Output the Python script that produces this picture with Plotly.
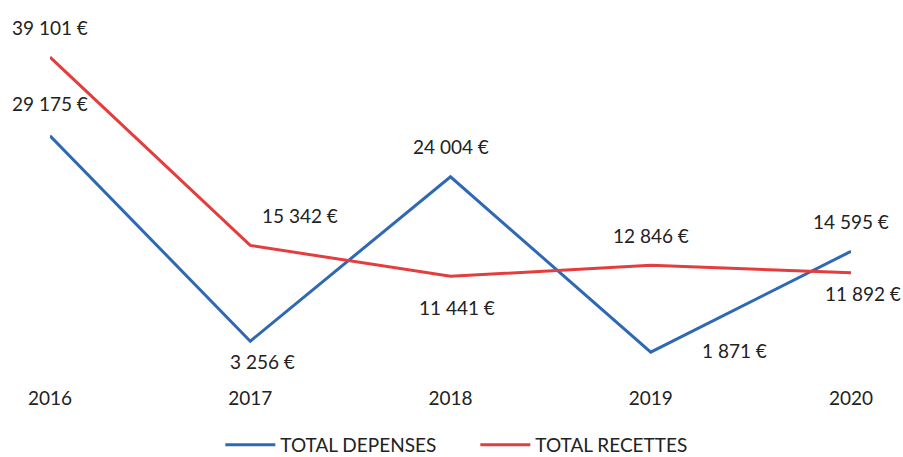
import plotly.graph_objects as go

years = [2016, 2017, 2018, 2019, 2020]
depenses = [29175, 3256, 24004, 1871, 14595]
recettes = [39101, 15342, 11441, 12846, 11892]
dep_labels = ["29 175 €", "3 256 €", "24 004 €", "1 871 €", "14 595 €"]
rec_labels = ["39 101 €", "15 342 €", "11 441 €", "12 846 €", "11 892 €"]

# label offsets (pixels) relative to each point
dep_shift = [(0, 32), (12, -20), (0, 30), (84, 2), (0, 30)]
rec_shift = [(0, 30), (50, 30), (6, -31), (0, 30), (12, -21)]

blue = "#2f68b3"
red = "#e43d3d"
font = "Lato, 'Open Sans', sans-serif"
fs = 19

fig = go.Figure()
fig.add_trace(go.Scatter(x=years, y=depenses, mode="lines", name="TOTAL DEPENSES",
                         line=dict(color=blue, width=3), cliponaxis=False))
fig.add_trace(go.Scatter(x=years, y=recettes, mode="lines", name="TOTAL RECETTES",
                         line=dict(color=red, width=3), cliponaxis=False))

for xs, ys, labs, shifts in [(years, depenses, dep_labels, dep_shift),
                             (years, recettes, rec_labels, rec_shift)]:
    for x, y, t, (dx, dy) in zip(xs, ys, labs, shifts):
        fig.add_annotation(x=x, y=y, text=t, showarrow=False, xshift=dx, yshift=dy,
                           font=dict(size=fs, color="#222222", family=font))

fig.update_layout(
    width=903, height=457,
    margin=dict(l=50, r=52, t=50, b=90, autoexpand=False),
    paper_bgcolor="white", plot_bgcolor="white",
    font=dict(family=font, size=fs, color="#222222"),
    showlegend=True,
    legend=dict(orientation="h", x=0.531, xanchor="center", y=-0.246, yanchor="middle",
                font=dict(size=fs, color="#222222"), itemwidth=50, entrywidth=190),
    xaxis=dict(range=[2016, 2020], tickvals=years, ticktext=[str(y) for y in years],
               showgrid=False, zeroline=False, showline=False, ticks="",
               ticklabelstandoff=18, tickfont=dict(size=fs)),
    yaxis=dict(range=[0, 40000], visible=False, showgrid=False, zeroline=False),
)

fig.write_html("out.html")
